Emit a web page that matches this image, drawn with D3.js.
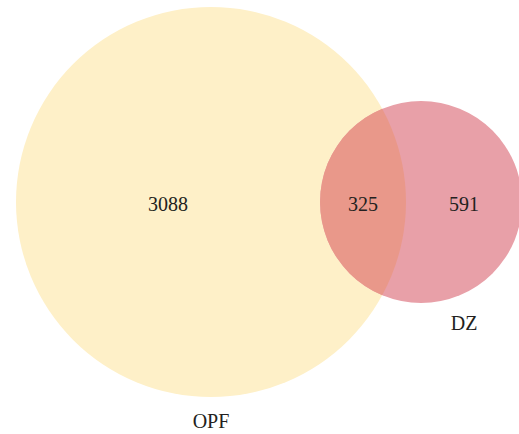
<!DOCTYPE html>
<html>
<head>
<meta charset="utf-8">
<script src="https://cdn.jsdelivr.net/npm/d3@7"></script>
<style>
  body { margin: 0; background: #fff; }
</style>
</head>
<body>
<script>
// chart size
var width = 519;
var height = 434;

// Venn data: set names, exclusive counts and the shared count
var setNames = ["OPF", "DZ"];
var onlyCounts = [3088, 591];
var sharedCount = 325;
var setColors = ["#fef0c8", "#e8a0a8"];
var sharedColor = "#e9988a";

var totals = onlyCounts.map(function(d) { return d + sharedCount; });

// radius scale: area proportional to set size
var rScale = d3.scaleSqrt()
               .domain([0, d3.max(totals)])
               .range([0, 195]);

var r1 = rScale(totals[0]);
var r2 = rScale(totals[1]);

// overlap area of two circles at distance d
function lensArea(d, a, b) {
  if (d >= a + b) return 0;
  if (d <= Math.abs(a - b)) return Math.PI * Math.min(a, b) * Math.min(a, b);
  var p = a * a * Math.acos((d * d + a * a - b * b) / (2 * d * a));
  var q = b * b * Math.acos((d * d + b * b - a * a) / (2 * d * b));
  var s = 0.5 * Math.sqrt((-d + a + b) * (d + a - b) * (d - a + b) * (d + a + b));
  return p + q - s;
}

// find the distance so the lens area matches the shared count
var targetArea = Math.PI * r1 * r1 * sharedCount / totals[0];
var lo = Math.abs(r1 - r2), hi = r1 + r2;
for (var i = 0; i < 60; i++) {
  var mid = (lo + hi) / 2;
  if (lensArea(mid, r1, r2) > targetArea) lo = mid; else hi = mid;
}
var dist = (lo + hi) / 2;

var cy = 202;
var cx1 = 16 + r1;
var cx2 = cx1 + dist;

var circles = [
  {name: setNames[0], cx: cx1, r: r1, color: setColors[0]},
  {name: setNames[1], cx: cx2, r: r2, color: setColors[1]}
];

const svg = d3.select("body")
              .append("svg")
              .attr("width", width)
              .attr("height", height);

// clip to the big circle for the shared part
svg.append("clipPath")
   .attr("id", "clipA")
   .append("circle")
   .attr("cx", cx1)
   .attr("cy", cy)
   .attr("r", r1);

svg.selectAll(".set")
   .data(circles)
   .enter()
   .append("circle")
   .attr("class", "set")
   .attr("cx", function(d) { return d.cx; })
   .attr("cy", cy)
   .attr("r", function(d) { return d.r; })
   .style("fill", function(d) { return d.color; });

svg.append("circle")
   .attr("clip-path", "url(#clipA)")
   .attr("cx", cx2)
   .attr("cy", cy)
   .attr("r", r2)
   .style("fill", sharedColor);

// region labels sit in the middle of each segment on the centre line
var edgeL1 = cx1 - r1, edgeR1 = cx1 + r1;
var edgeL2 = cx2 - r2, edgeR2 = cx2 + r2;
var regionLabels = [
  {text: onlyCounts[0], x: (edgeL1 + edgeL2) / 2},
  {text: sharedCount, x: (edgeL2 + edgeR1) / 2},
  {text: onlyCounts[1], x: (edgeR1 + edgeR2) / 2}
];

svg.selectAll(".count")
   .data(regionLabels)
   .enter()
   .append("text")
   .attr("class", "count")
   .attr("x", function(d) { return d.x; })
   .attr("y", cy + 9)
   .attr("text-anchor", "middle")
   .attr("font-family", "Liberation Serif")
   .attr("font-size", 20)
   .attr("fill", "#231f20")
   .text(function(d) { return d.text; });

// set names below the circles
var nameLabels = [
  {text: setNames[0], x: cx1, y: cy + r1 + 31},
  {text: setNames[1], x: regionLabels[2].x, y: cy + r2 + 27}
];

svg.selectAll(".setname")
   .data(nameLabels)
   .enter()
   .append("text")
   .attr("class", "setname")
   .attr("x", function(d) { return d.x; })
   .attr("y", function(d) { return d.y; })
   .attr("text-anchor", "middle")
   .attr("font-family", "Liberation Serif")
   .attr("font-size", 20)
   .attr("fill", "#231f20")
   .text(function(d) { return d.text; });
</script>
</body>
</html>
